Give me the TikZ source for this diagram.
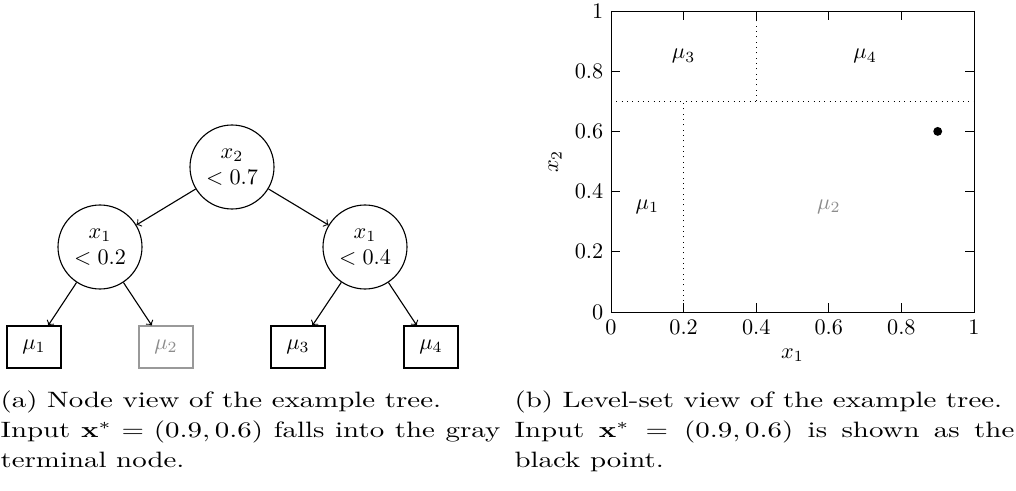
\documentclass[tikz,border=0pt]{standalone}
\usepackage{amsmath,bm}
\usepackage{xcolor}
\usetikzlibrary{positioning}
\begin{document}
\begin{tikzpicture}[x=0.45pt,y=-0.45pt,
	split node/.style={circle, draw=black, line width=0.5pt, align=center, inner sep=0pt, minimum size=37.8pt},
	leaf node/.style={rectangle, draw=black, line width=0.5pt, minimum width=24.3pt, minimum height=18.9pt},
	gray leaf/.style={leaf node, draw=black!40, text=black!45},
	cap text/.style={anchor=north west, inner sep=0pt, text width=173pt, align=justify, font=\fontsize{10}{13.5}\selectfont, xscale=1.3, transform shape}]
	\useasboundingbox (0,0) rectangle (1016,491);

	% (a) node view
	\node[split node] (root) at (232,167) {$x_2$\\$<0.7$};
	\node[split node] (left) at (100,247) {$x_1$\\$<0.2$};
	\node[split node] (right) at (365,247) {$x_1$\\$<0.4$};
	\node[leaf node] (mu1) at (34,347) {$\mu_1$};
	\node[gray leaf] (mu2) at (166,347) {$\mu_2$};
	\node[leaf node] (mu3) at (298,347) {$\mu_3$};
	\node[leaf node] (mu4) at (431,347) {$\mu_4$};

	\path[->, line width=0.5pt]
	(root) edge (left)
	(root) edge (right)
	(left) edge (mu1)
	(left) edge (mu2)
	(right) edge (mu3)
	(right) edge (mu4);

	% (b) level-set view
	\begin{scope}[shift={(611,312)}, x=163.35pt, y=135.45pt]
		\draw (0,0) rectangle (1,1);
		\foreach \t [count=\i] in {0,0.2,0.4,0.6,0.8,1}{
			\draw (\t,0) -- ++(0,4.25pt) (\t,1) -- ++(0,-4.25pt);
			\draw (0,\t) -- ++(4.25pt,0) (1,\t) -- ++(-4.25pt,0);
			\node[below] (xt\i) at (\t,0) {$\t$};
			\node[left] (yt\i) at (0,\t) {$\t$};
		}
		\draw[dotted] (0,0.7) -- (1,0.7);
		\draw[dotted] (0.2,0) -- (0.2,0.7);
		\draw[dotted] (0.4,0.7) -- (0.4,1);
		\node (r1) at (0.1,0.35) {$\mu_1$};
		\node[text=black!45] (r2) at (0.6,0.35) {$\mu_2$};
		\node (r3) at (0.2,0.85) {$\mu_3$};
		\node (r4) at (0.7,0.85) {$\mu_4$};
		\fill (0.9,0.6) circle (2pt);
		\node (xlab) at (0.5,-0.143) {$x_1$};
		\node[rotate=90] (ylab) at (-0.154,0.5) {$x_2$};
	\end{scope}

	% captions
	\node[cap text] (capa) at (0,390) {(a) Node view of the example tree.\\ Input $\mathbf{x}^* = (0.9, 0.6)$ falls into the gray\linebreak terminal node.};
	\node[cap text] (capb) at (514,390) {(b) Level-set view of the example tree.\\ Input $\mathbf{x}^* = (0.9, 0.6)$ is shown as the\linebreak black point.};
\end{tikzpicture}
\end{document}
